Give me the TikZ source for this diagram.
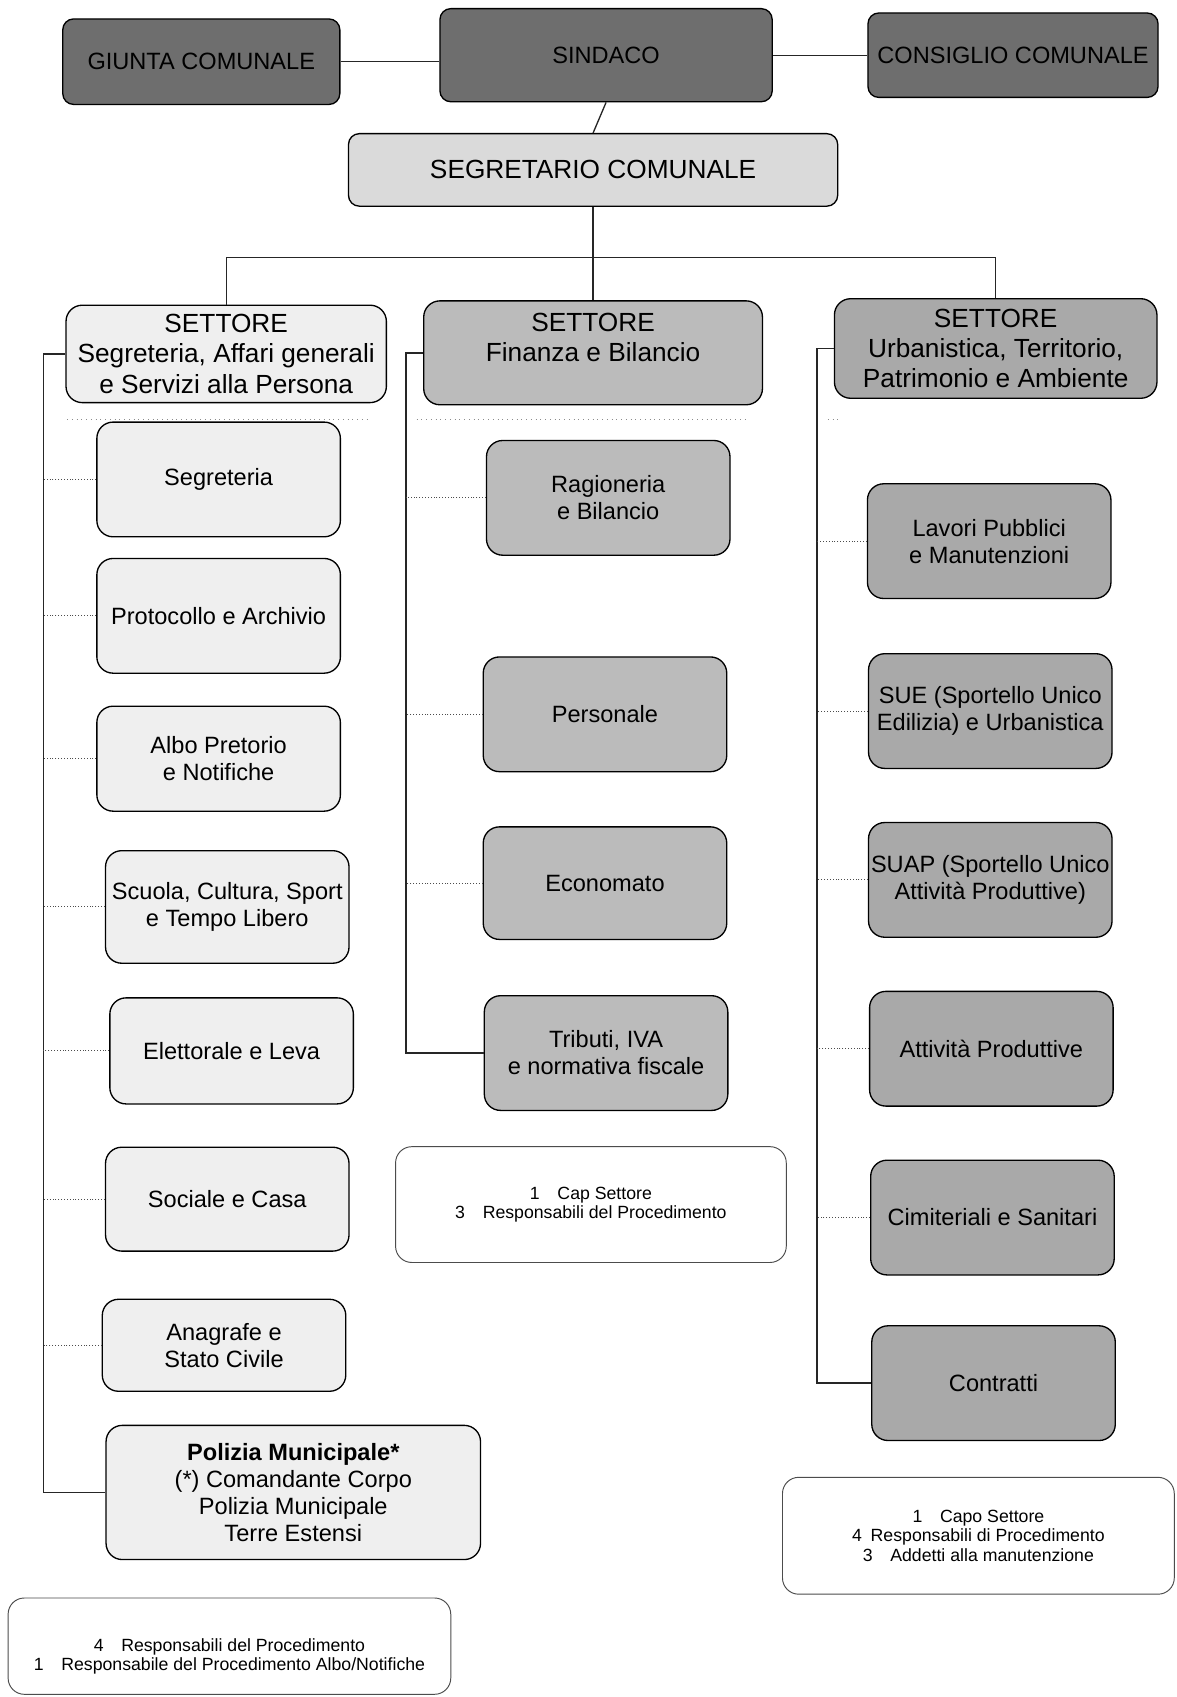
\documentclass[tikz,border=0pt]{standalone}
\usepackage{fontspec}
\setmainfont{Liberation Sans}
\usepackage{xcolor}
\usepackage{tikz}
\definecolor{vertexc}{HTML}{6E6E6E}
\definecolor{segrc}{HTML}{DADADA}
\definecolor{affaric}{HTML}{EFEFEF}
\definecolor{finanzac}{HTML}{BBBBBB}
\definecolor{urbanc}{HTML}{A9A9A9}
\tikzset{
  basenode/.style={rectangle, rounded corners=3mm, draw=black, line width=0.7pt,
    inner sep=0pt, align=center, text=black, font=\fontsize{12.4}{14.2}\selectfont},
  topnode/.style={basenode, rounded corners=2mm, fill=vertexc,
    minimum width=51.2mm, minimum height=15.8mm},
  segrnode/.style={basenode, rounded corners=2mm, fill=segrc,
    font=\fontsize{13.8}{15.9}\selectfont},
  settorenode/.style={basenode, font=\fontsize{13.8}{15.9}\selectfont, minimum height=18.4mm},
  unitnode/.style={basenode, minimum width=45mm, minimum height=21.2mm},
  affarinode/.style={unitnode, fill=affaric},
  finanzanode/.style={unitnode, fill=finanzac},
  urbannode/.style={unitnode, fill=urbanc},
  notenode/.style={basenode, draw=black!70, line width=0.5pt, fill=white,
    font=\fontsize{9.3}{10.2}\selectfont},
  treeedge/.style={draw=black!85, line width=0.7pt},
  spineedge/.style={draw=black!85, line width=0.8pt},
  stubedge/.style={draw=black!70, line width=0.5pt, densely dotted},
  sepline/.style={draw=black!45, line width=0.5pt, dotted},
}
\begin{document}
\begin{tikzpicture}[x=0.2mm, y=-0.2mm]
  \useasboundingbox (0,0) rectangle (1087,1568);
  \node[topnode] (giunta) at (186,57) {GIUNTA COMUNALE};
  \node[topnode, minimum width=61.4mm, minimum height=17.2mm] (sindaco) at (560,51) {SINDACO};
  \node[topnode, minimum width=53.6mm, minimum height=15.6mm] (consiglio) at (936,51) {CONSIGLIO COMUNALE};
  \node[segrnode, minimum width=90.4mm, minimum height=13.4mm] (segretario) at (548,157) {SEGRETARIO COMUNALE};
  \coordinate (bus) at (548,238);

  \node[settorenode, fill=affaric, minimum width=59.2mm, minimum height=18mm] (affari) at (209,327)
    {SETTORE\\Segreteria, Affari generali\\e Servizi alla Persona};
  \node[settorenode, fill=finanzac, minimum width=62.6mm, minimum height=19.2mm] (finanza) at (548,326)
    {SETTORE\\Finanza e Bilancio\\[-4pt]\strut};
  \node[settorenode, fill=urbanc, minimum width=59.6mm] (urban) at (920,322)
    {SETTORE\\Urbanistica, Territorio,\\Patrimonio e Ambiente};

  \node[affarinode] (segreteria) at (202,443) {Segreteria};
  \node[affarinode] (protocollo) at (202,569) {Protocollo e Archivio};
  \node[affarinode, minimum height=19.4mm] (albo) at (202,701) {Albo Pretorio\\e Notifiche};
  \node[affarinode, minimum height=20.8mm] (scuola) at (210,838) {Scuola, Cultura, Sport\\e Tempo Libero};
  \node[affarinode, minimum height=19.6mm] (elettorale) at (214,971) {Elettorale e Leva};
  \node[affarinode, minimum height=19.2mm] (sociale) at (210,1108) {Sociale e Casa};
  \node[affarinode, minimum height=17mm] (anagrafe) at (207,1243) {Anagrafe e\\Stato Civile};
  \node[affarinode, minimum width=69.2mm, minimum height=24.8mm] (polizia) at (271,1379)
    {\textbf{Polizia Municipale*}\\(*) Comandante Corpo\\Polizia Municipale\\Terre Estensi};

  \node[finanzanode] (ragioneria) at (562,460) {Ragioneria\\e Bilancio};
  \node[finanzanode] (personale) at (559,660) {Personale};
  \node[finanzanode, minimum height=20.8mm] (economato) at (559,816) {Economato};
  \node[finanzanode] (tributi) at (560,973) {Tributi, IVA\\e normativa fiscale};

  \node[urbannode] (lavori) at (914,500) {Lavori Pubblici\\e Manutenzioni};
  \node[urbannode] (sue) at (915,657) {SUE (Sportello Unico\\Edilizia) e Urbanistica};
  \node[urbannode] (suap) at (915,813) {SUAP (Sportello Unico\\Attività Produttive)};
  \node[urbannode] (attivita) at (916,969) {Attività Produttive};
  \node[urbannode] (cimiteriali) at (917,1125) {Cimiteriali e Sanitari};
  \node[urbannode] (contratti) at (918,1278) {Contratti};

  \node[notenode, minimum width=72.2mm, minimum height=21.4mm] (notafin) at (546,1113)
    {1\quad Cap Settore\\3\quad Responsabili del Procedimento};
  \node[notenode, minimum width=72.4mm, minimum height=21.6mm] (notaurb) at (904,1419)
    {1\quad Capo Settore\\4\enspace Responsabili di Procedimento\\3\quad Addetti alla manutenzione};
  \node[notenode, minimum width=81.8mm, minimum height=17.8mm] (notaaff) at (212,1521)
    {\strut\\4\quad Responsabili del Procedimento\\1\quad Responsabile del Procedimento Albo/Notifiche};

  \coordinate (spaff) at (40,0);
  \coordinate (spfin) at (375,0);
  \coordinate (spurb) at (755,0);

  \draw[treeedge] (giunta.east) -- (giunta.east -| sindaco.west);
  \draw[treeedge] (sindaco.east) -- (consiglio.west);
  \draw[treeedge] (sindaco.south) -- (segretario.north);
  \draw[treeedge] (segretario.south) -- (finanza.north);
  \draw[treeedge] (affari.north) |- (bus) -| (urban.north);

  \draw[sepline] (62,388) -- (340,388);
  \draw[sepline] (385,388) -- (690,388);
  \draw[sepline] (765,388) -- (775,388);

  \draw[spineedge] (affari.west) -| (polizia.west -| spaff) -- (polizia.west);
  \draw[stubedge] (segreteria.west) -- (segreteria.west -| spaff);
  \draw[stubedge] (protocollo.west) -- (protocollo.west -| spaff);
  \draw[stubedge] (albo.west) -- (albo.west -| spaff);
  \draw[stubedge] (scuola.west) -- (scuola.west -| spaff);
  \draw[stubedge] (elettorale.west) -- (elettorale.west -| spaff);
  \draw[stubedge] (sociale.west) -- (sociale.west -| spaff);
  \draw[stubedge] (anagrafe.west) -- (anagrafe.west -| spaff);

  \draw[spineedge] (finanza.west) -| (tributi.west -| spfin) -- (tributi.west);
  \draw[stubedge] (ragioneria.west) -- (ragioneria.west -| spfin);
  \draw[stubedge] (personale.west) -- (personale.west -| spfin);
  \draw[stubedge] (economato.west) -- (economato.west -| spfin);

  \draw[spineedge] (urban.west) -| (contratti.west -| spurb) -- (contratti.west);
  \draw[stubedge] (lavori.west) -- (lavori.west -| spurb);
  \draw[stubedge] (sue.west) -- (sue.west -| spurb);
  \draw[stubedge] (suap.west) -- (suap.west -| spurb);
  \draw[stubedge] (attivita.west) -- (attivita.west -| spurb);
  \draw[stubedge] (cimiteriali.west) -- (cimiteriali.west -| spurb);
\end{tikzpicture}
\end{document}
